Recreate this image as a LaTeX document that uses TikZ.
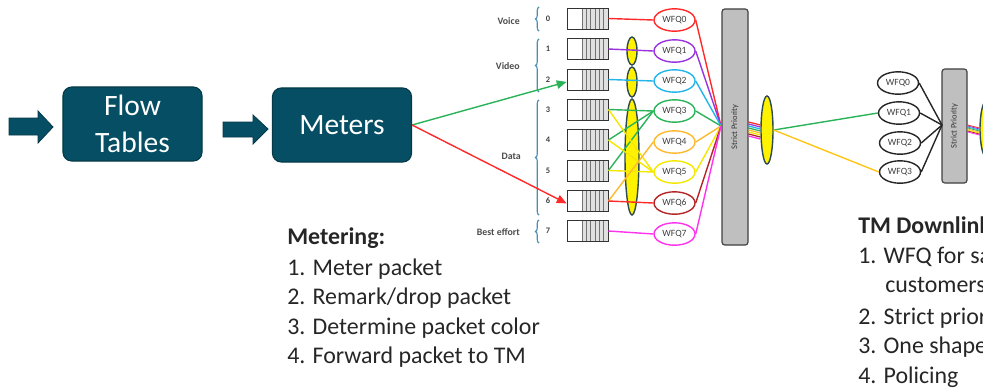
\documentclass[tikz,border=0pt]{standalone}
\usepackage{fontspec}
\setmainfont{Carlito}
\usepackage{tikz}
\usetikzlibrary{arrows.meta,shapes.geometric,decorations.pathreplacing}
\definecolor{boxteal}{HTML}{064E63}
\definecolor{boxedge}{HTML}{043A4A}
\definecolor{aggedge}{HTML}{2E4A52}
\definecolor{bracecol}{HTML}{4A8FB0}
\definecolor{wfqred}{HTML}{FF2A2A}
\definecolor{wfqpurple}{HTML}{9933DD}
\definecolor{wfqblue}{HTML}{22B5EA}
\definecolor{wfqgreen}{HTML}{2BB35A}
\definecolor{wfqorange}{HTML}{FFB92E}
\definecolor{wfqyellow}{HTML}{F5E800}
\definecolor{wfqdark}{HTML}{B52525}
\definecolor{wfqpink}{HTML}{FF33EE}
\definecolor{wfqgold}{HTML}{FFC61A}
\tikzstyle{none}=[inner sep=0pt]
\tikzstyle{block}=[draw=boxedge, line width=0.8pt, fill=boxteal, rounded corners=0.22cm, minimum width=3.475cm, minimum height=1.85cm, text=white, align=center, font=\fontsize{21}{26}\selectfont]
\tikzstyle{blockarrow}=[draw=boxedge, fill=boxteal, line width=0.6pt]
\tikzstyle{queue}=[draw=black!80, line width=0.6pt, minimum width=1.025cm, minimum height=0.525cm, inner sep=0pt,
  path picture={\fill[black!12] ([xshift=0.375cm]path picture bounding box.south west) rectangle (path picture bounding box.north east);
    \foreach \k in {0,...,5}{\draw[black!55, line width=0.4pt] ([xshift={0.375cm+\k*0.107cm}]path picture bounding box.south west) -- ([xshift={0.375cm+\k*0.107cm}]path picture bounding box.north west);}}]
\tikzstyle{wfq}=[ellipse, draw, line width=1pt, fill=white, minimum width=1.025cm, minimum height=0.56cm, inner sep=0pt, font=\fontsize{6.8}{7}\selectfont, text=black!75]
\tikzstyle{agg}=[ellipse, draw=aggedge, line width=1pt, fill=yellow, inner sep=0pt]
\tikzstyle{prio}=[draw=black!75, line width=0.8pt, fill=black!25, rounded corners=2pt, inner sep=0pt]
\tikzstyle{priolabel}=[inner sep=0pt, rotate=90, font=\fontsize{6}{7}\selectfont, text=black!80]
\tikzstyle{simple}=[-, line width=1pt]
\tikzstyle{stripe}=[-, line width=0.9pt]
\tikzstyle{meterarrow}=[-{Triangle[length=7pt,width=6pt]}, line width=1pt]
\tikzstyle{bracket}=[draw=bracecol, line width=0.8pt, decorate, decoration={brace, amplitude=2.5pt}]
\tikzstyle{qlabel}=[inner sep=0pt, font=\fontsize{6}{7}\selectfont\bfseries, text=black!75]
\tikzstyle{grouplabel}=[inner sep=0pt, anchor=east, font=\fontsize{7}{8}\selectfont\bfseries, text=black!70]
\tikzstyle{listhead}=[inner sep=0pt, anchor=base west, font=\fontsize{17}{21}\selectfont\bfseries, text=black!85]
\tikzstyle{listitem}=[inner sep=0pt, anchor=base west, font=\fontsize{17}{21}\selectfont, text=black!85]

\begin{document}
\begin{tikzpicture}[x=0.025cm, y=-0.025cm]
  \useasboundingbox (0,0) rectangle (983,390);
  \clip (0,0) rectangle (983,390);
  \draw [style=blockarrow] (9,118) -- (38,118) -- (38,111) -- (53,127) -- (38,143) -- (38,135) -- (9,135) -- cycle;
  \draw [style=blockarrow] (223,122) -- (253,122) -- (253,115) -- (268,129) -- (253,144) -- (253,137) -- (223,137) -- cycle;
  \node [style=block] (1) at (132.5, 124) {Flow\\Tables};
  \node [style=block] (2) at (342, 125) {Meters};
  \node [style=queue] (10) at (587.5, 18.5) {};
  \node [style=queue] (11) at (587.5, 49) {};
  \node [style=queue] (12) at (587.5, 79.5) {};
  \node [style=queue] (13) at (587.5, 109.5) {};
  \node [style=queue] (14) at (587.5, 140) {};
  \node [style=queue] (15) at (587.5, 170.5) {};
  \node [style=queue] (16) at (587.5, 201) {};
  \node [style=queue] (17) at (587.5, 231) {};
  \node [style=qlabel] (20) at (548, 18.5) {0};
  \node [style=qlabel] (21) at (548, 49) {1};
  \node [style=qlabel] (22) at (548, 79.5) {2};
  \node [style=qlabel] (23) at (548, 109.5) {3};
  \node [style=qlabel] (24) at (548, 140) {4};
  \node [style=qlabel] (25) at (548, 170.5) {5};
  \node [style=qlabel] (26) at (548, 201) {6};
  \node [style=qlabel] (27) at (548, 231) {7};
  \draw [style=bracket] (539, 31) -- (539, 7);
  \draw [style=bracket] (539, 92) -- (539, 39);
  \draw [style=bracket] (539, 215) -- (539, 100);
  \draw [style=bracket] (539, 243) -- (539, 220);
  \node [style=grouplabel] (60) at (520, 21) {Voice};
  \node [style=grouplabel] (61) at (520, 66) {Video};
  \node [style=grouplabel] (62) at (521, 156) {Data};
  \node [style=grouplabel] (63) at (520, 232) {Best effort};
  \node [style=agg, minimum width=0.25cm, minimum height=0.7cm] (40) at (632, 51) {};
  \node [style=agg, minimum width=0.25cm, minimum height=0.75cm] (41) at (632, 82) {};
  \node [style=agg, minimum width=0.35cm, minimum height=2.9cm] (42) at (632, 157) {};
  \node [style=wfq, draw=wfqred] (30) at (674.5, 20) {WFQ0};
  \node [style=wfq, draw=wfqpurple] (31) at (674.5, 51) {WFQ1};
  \node [style=wfq, draw=wfqblue] (32) at (674.5, 81) {WFQ2};
  \node [style=wfq, draw=wfqgreen] (33) at (674.5, 111) {WFQ3};
  \node [style=wfq, draw=wfqorange] (34) at (674.5, 142) {WFQ4};
  \node [style=wfq, draw=wfqyellow] (35) at (674.5, 172) {WFQ5};
  \node [style=wfq, draw=wfqdark] (36) at (674.5, 203) {WFQ6};
  \node [style=wfq, draw=wfqpink] (37) at (674.5, 234) {WFQ7};
  \coordinate (45) at (721, 126);
  \node [style=prio, minimum width=0.65cm, minimum height=5.9cm] (43) at (735, 127) {};
  \node [style=priolabel] (46) at (735, 127) {Strict Priority};
  \node [style=agg, minimum width=0.3cm, minimum height=1.7cm] (44) at (767, 130) {};
  \node [style=wfq, draw=black!85] (50) at (898, 83) {WFQ0};
  \node [style=wfq, draw=black!85] (51) at (899, 113) {WFQ1};
  \node [style=wfq, draw=black!85] (52) at (900, 143) {WFQ2};
  \node [style=wfq, draw=black!85] (53) at (900, 172) {WFQ3};
  \coordinate (56) at (942, 125);
  \node [style=prio, minimum width=0.625cm, minimum height=2.85cm] (54) at (954.5, 126) {};
  \node [style=priolabel] (57) at (954.5, 126) {Strict Priority};
  \node [style=agg, minimum width=0.35cm, minimum height=1.45cm] (55) at (987, 129) {};
  \node [style=listhead] (70) at (287, 244) {Metering:};
  \node [style=listitem] (71) at (287, 275) {1. Meter packet};
  \node [style=listitem] (72) at (287, 304) {2. Remark/drop packet};
  \node [style=listitem] (73) at (287, 334) {3. Determine packet color};
  \node [style=listitem] (74) at (287, 363) {4. Forward packet to TM};
  \node [style=listhead] (80) at (858, 233) {TM Downlink};
  \node [style=listitem] (81) at (858, 263) {1. WFQ for sa};
  \node [style=listitem] (82) at (885, 292) {customers};
  \node [style=listitem] (83) at (858, 324) {2. Strict prior};
  \node [style=listitem] (84) at (858, 353) {3. One shape};
  \node [style=listitem] (85) at (858, 383) {4. Policing};
  \draw [style=meterarrow, draw=wfqgreen, fill=wfqgreen] (2.east) to ([yshift=-0.06cm]12.west);
  \draw [style=meterarrow, draw=wfqred, fill=wfqred] (2.east) to ([yshift=-0.06cm]16.west);
  \draw [style=simple, draw=wfqred] (10.east) to (30.west);
  \draw [style=simple, draw=wfqpurple] (11.east) to (31.west);
  \draw [style=simple, draw=wfqblue] (12.east) to (32.west);
  \draw [style=simple, draw=wfqgreen] (13.east) to (33.west);
  \draw [style=simple, draw=wfqgreen] (14.east) to (33.west);
  \draw [style=simple, draw=wfqgreen] (15.east) to (33.west);
  \draw [style=simple, draw=wfqyellow] (13.east) to (35.west);
  \draw [style=simple, draw=wfqyellow] (14.east) to (35.west);
  \draw [style=simple, draw=wfqyellow] (15.east) to (35.west);
  \draw [style=simple, draw=wfqorange] (16.east) to (34.west);
  \draw [style=simple, draw=wfqred] (16.east) to (36.west);
  \draw [style=simple, draw=wfqpink] (17.east) to (37.west);
  \draw [style=simple, draw=wfqred] (30.east) to (45);
  \draw [style=simple, draw=wfqpurple] (31.east) to (45);
  \draw [style=simple, draw=wfqblue] (32.east) to (45);
  \draw [style=simple, draw=wfqgreen] (33.east) to (45);
  \draw [style=simple, draw=wfqorange] (34.east) to (45);
  \draw [style=simple, draw=wfqyellow] (35.east) to (45);
  \draw [style=simple, draw=wfqdark] (36.east) to (45);
  \draw [style=simple, draw=wfqpink] (37.east) to (45);
  \draw [style=stripe, draw=wfqred] ([yshift=0.125cm]43.east) to ([yshift=0.125cm]44.west);
  \draw [style=stripe, draw=wfqpurple] ([yshift=0.075cm]43.east) to ([yshift=0.075cm]44.west);
  \draw [style=stripe, draw=wfqblue] ([yshift=0.025cm]43.east) to ([yshift=0.025cm]44.west);
  \draw [style=stripe, draw=wfqgreen] ([yshift=-0.025cm]43.east) to ([yshift=-0.025cm]44.west);
  \draw [style=stripe, draw=wfqorange] ([yshift=-0.075cm]43.east) to ([yshift=-0.075cm]44.west);
  \draw [style=stripe, draw=wfqyellow] ([yshift=-0.125cm]43.east) to ([yshift=-0.125cm]44.west);
  \draw [style=stripe, draw=wfqdark] ([yshift=-0.175cm]43.east) to ([yshift=-0.175cm]44.west);
  \draw [style=stripe, draw=wfqpink] ([yshift=-0.225cm]43.east) to ([yshift=-0.225cm]44.west);
  \draw [style=simple, draw=wfqgreen] (44.east) to (51.west);
  \draw [style=simple, draw=wfqgold] (44.east) to (53.west);
  \draw [style=simple, draw=black!85] (50.east) to (56);
  \draw [style=simple, draw=black!85] (51.east) to (56);
  \draw [style=simple, draw=black!85] (52.east) to (56);
  \draw [style=simple, draw=black!85] (53.east) to (56);
  \draw [style=stripe, line width=0.6pt, draw=wfqred] ([yshift=0.025cm]54.east) to ([yshift=0.025cm]55.west);
  \draw [style=stripe, line width=0.6pt, draw=wfqpurple] ([yshift=0cm]54.east) to ([yshift=0cm]55.west);
  \draw [style=stripe, line width=0.6pt, draw=wfqblue] ([yshift=-0.025cm]54.east) to ([yshift=-0.025cm]55.west);
  \draw [style=stripe, line width=0.6pt, draw=wfqgreen] ([yshift=-0.05cm]54.east) to ([yshift=-0.05cm]55.west);
  \draw [style=stripe, line width=0.6pt, draw=wfqorange] ([yshift=-0.075cm]54.east) to ([yshift=-0.075cm]55.west);
  \draw [style=stripe, line width=0.6pt, draw=wfqyellow] ([yshift=-0.1cm]54.east) to ([yshift=-0.1cm]55.west);
  \draw [style=stripe, line width=0.6pt, draw=wfqdark] ([yshift=-0.125cm]54.east) to ([yshift=-0.125cm]55.west);
  \draw [style=stripe, line width=0.6pt, draw=wfqpink] ([yshift=-0.15cm]54.east) to ([yshift=-0.15cm]55.west);
\end{tikzpicture}
\end{document}
